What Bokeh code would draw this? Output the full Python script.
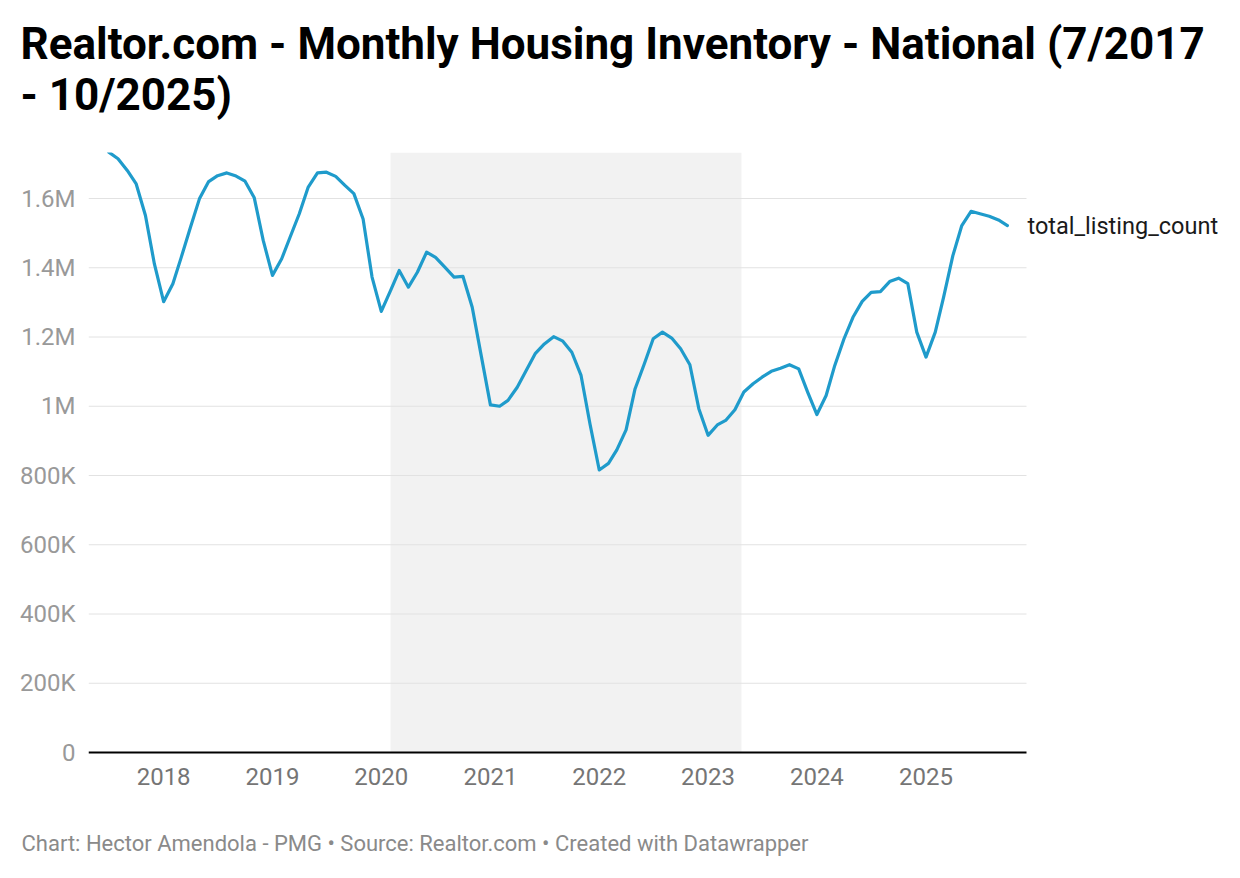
import pandas as pd
from bokeh.plotting import figure
from bokeh.models import (ColumnDataSource, Range1d, FixedTicker, BoxAnnotation, Label,
                          DatetimeTickFormatter)
from bokeh.embed import file_html
from bokeh.resources import INLINE

# ---- data -----------------------------------------------------------------
start_month = "2017-07-01"
total_listing_count = [
    1734000, 1715000, 1681000, 1642000, 1551000, 1411000, 1302000, 1354000, 1430000, 1517000,
    1599000, 1649000, 1666000, 1674000, 1665000, 1650000, 1602000, 1479000, 1378000, 1426000,
    1488000, 1556000, 1633000, 1674000, 1676000, 1664000, 1638000, 1614000, 1541000, 1373000,
    1274000, 1334000, 1392000, 1344000, 1387000, 1445000, 1430000, 1402000, 1373000, 1375000,
    1286000, 1147000, 1004000, 1000000, 1017000, 1055000, 1103000, 1153000, 1180000, 1201000,
    1188000, 1156000, 1089000, 949000, 816000, 835000, 874000, 932000, 1050000, 1122000,
    1195000, 1214000, 1197000, 1166000, 1120000, 993000, 916000, 946000, 959000, 990000,
    1041000, 1065000, 1084000, 1101000, 1110000, 1120000, 1108000, 1041000, 976000, 1031000,
    1118000, 1195000, 1257000, 1303000, 1329000, 1331000, 1360000, 1370000, 1354000, 1214000,
    1142000, 1214000, 1315000, 1435000, 1522000, 1563000, 1556000, 1549000, 1538000, 1522000,
]
months = pd.date_range(start_month, periods=len(total_listing_count), freq="MS")
series_name = "total_listing_count"

year_ticks = ["2018", "2019", "2020", "2021", "2022", "2023", "2024", "2025"]
y_ticks = [0, 200000, 400000, 600000, 800000, 1000000, 1200000, 1400000, 1600000]
y_tick_labels = ["0", "200K", "400K", "600K", "800K", "1M", "1.2M", "1.4M", "1.6M"]

shade_start = "2020-02-01"
shade_end = "2023-04-23"

title_line1 = "Realtor.com - Monthly Housing Inventory - National (7/2017"
title_line2 = "- 10/2025)"
footer = "Chart: Hector Amendola - PMG \u2022 Source: Realtor.com \u2022 Created with Datawrapper"

# ---- styling ----------------------------------------------------------------
FONT = "Roboto"
LINE_COLOR = "#1f9bcb"
W = 1240


def ms(d):
    return pd.Timestamp(d).value / 1e6


def text_panel(height):
    f = figure(width=W, height=height, x_range=Range1d(0, W), y_range=Range1d(height, 0),
               x_axis_location=None, y_axis_location=None,
               min_border_left=0, min_border_right=0, min_border_top=0, min_border_bottom=0,
               output_backend="svg", toolbar_location=None)
    f.grid.visible = False
    f.outline_line_color = None
    f.background_fill_color = "white"
    f.border_fill_color = "white"
    return f


# ---- title ----------------------------------------------------------------
head = text_panel(140)
for txt, base in ((title_line1, 43), (title_line2, 94)):
    head.add_layout(Label(x=20, y=base, text=txt, text_font=FONT, text_font_size="44px",
                          text_font_style="bold", text_color="#000000",
                          text_baseline="alphabetic", text_align="left"))

# ---- main chart -----------------------------------------------------------
MAIN_H = 670
FRAME_LEFT = 88
FRAME_W = W - FRAME_LEFT
x_start = ms("2017-04-24")
grid_end = ms("2025-12-04")
x_end = x_start + (grid_end - x_start) * FRAME_W / (1026 - FRAME_LEFT)

p = figure(width=W, height=MAIN_H, x_axis_type="datetime",
           x_range=Range1d(x_start, x_end), y_range=Range1d(-5776, 1732900),
           output_backend="svg", toolbar_location=None,
           min_border_left=FRAME_LEFT, min_border_right=0,
           min_border_top=12, min_border_bottom=56)
p.outline_line_color = None
p.background_fill_color = "white"
p.border_fill_color = "white"
p.grid.visible = False

p.add_layout(BoxAnnotation(left=ms(shade_start), right=ms(shade_end), bottom=0,
                           fill_color="#f2f2f2", fill_alpha=1.0, line_color=None,
                           level="image"))

# horizontal grid lines (end where the axis ends)
grid_src = ColumnDataSource(dict(x0=[x_start] * (len(y_ticks) - 1),
                                 x1=[grid_end] * (len(y_ticks) - 1),
                                 y=y_ticks[1:]))
p.segment(x0="x0", x1="x1", y0="y", y1="y", source=grid_src,
          line_color="#e2e2e2", line_width=1)
# baseline
p.segment(x0=[x_start], x1=[grid_end], y0=[0], y1=[0], line_color="#000000", line_width=2)

src = ColumnDataSource(dict(x=months, y=total_listing_count))
p.line("x", "y", source=src, line_color=LINE_COLOR, line_width=3.2,
       line_join="round", line_cap="round")

p.yaxis.ticker = FixedTicker(ticks=y_ticks)
p.yaxis.major_label_overrides = {t: l for t, l in zip(y_ticks, y_tick_labels)}
p.yaxis.axis_line_color = None
p.yaxis.major_tick_line_color = None
p.yaxis.minor_tick_line_color = None
p.yaxis.major_tick_out = 0
p.yaxis.major_tick_in = 0
p.yaxis.major_label_standoff = 13
p.yaxis.major_label_text_font = FONT
p.yaxis.major_label_text_font_size = "24px"
p.yaxis.major_label_text_color = "#999999"

p.xaxis.ticker = FixedTicker(ticks=[ms(y + "-01-01") for y in year_ticks])
fmt = "%Y"
p.xaxis.formatter = DatetimeTickFormatter(years=fmt, months=fmt, days=fmt, hours=fmt,
                                          minutes=fmt, seconds=fmt, milliseconds=fmt,
                                          microseconds=fmt, hourmin=fmt, minsec=fmt)
p.xaxis.axis_line_color = None
p.xaxis.major_tick_line_color = None
p.xaxis.minor_tick_line_color = None
p.xaxis.major_tick_out = 0
p.xaxis.major_tick_in = 0
p.xaxis.major_label_standoff = 13
p.xaxis.major_label_text_font = FONT
p.xaxis.major_label_text_font_size = "24px"
p.xaxis.major_label_text_color = "#757575"

p.add_layout(Label(x=ms(months[-1]), y=total_listing_count[-1], x_offset=20,
                   text=series_name, text_font=FONT, text_font_size="23.5px",
                   text_color="#1a1a1a", text_baseline="middle", text_align="left"))

# ---- footer ---------------------------------------------------------------
foot = text_panel(66)
foot.add_layout(Label(x=21, y=33, text=footer, text_font=FONT, text_font_size="22px",
                      text_color="#8a8a8a", text_baseline="alphabetic", text_align="left"))

open("out.html", "w").write(file_html([head, p, foot], INLINE))
